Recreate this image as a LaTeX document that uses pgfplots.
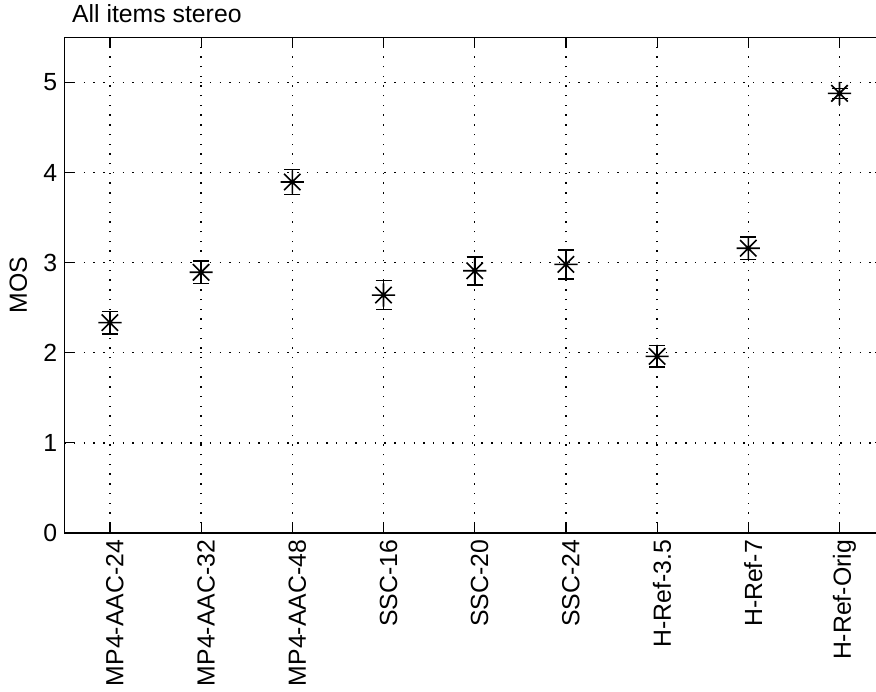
\documentclass[border=0pt]{standalone}
\usepackage{fontspec}
\setmainfont{Liberation Sans}
\usepackage{pgfplots}
\usepackage{pgfplotstable}
\pgfplotsset{compat=1.18}

\pgfdeclareplotmark{mstar}{%
  \pgfpathmoveto{\pgfqpoint{-\pgfplotmarksize}{0pt}}%
  \pgfpathlineto{\pgfqpoint{\pgfplotmarksize}{0pt}}%
  \pgfpathmoveto{\pgfqpoint{0pt}{-\pgfplotmarksize}}%
  \pgfpathlineto{\pgfqpoint{0pt}{\pgfplotmarksize}}%
  \pgfpathmoveto{\pgfqpoint{-.7071\pgfplotmarksize}{-.7071\pgfplotmarksize}}%
  \pgfpathlineto{\pgfqpoint{.7071\pgfplotmarksize}{.7071\pgfplotmarksize}}%
  \pgfpathmoveto{\pgfqpoint{-.7071\pgfplotmarksize}{.7071\pgfplotmarksize}}%
  \pgfpathlineto{\pgfqpoint{.7071\pgfplotmarksize}{-.7071\pgfplotmarksize}}%
  \pgfusepathqstroke}

\pgfplotstableread{
x   y      err
1   2.334  0.123
2   2.893  0.125
3   3.895  0.140
4   2.640  0.160
5   2.910  0.155
6   2.980  0.160
7   1.960  0.120
8   3.160  0.125
9   4.878  0.055
}\mosdata

\begin{document}
\begin{tikzpicture}
\path[use as bounding box] (-32.15pt,-79pt) rectangle (405.85pt,266.5pt);
\begin{axis}[
  name=ax,
  scale only axis,
  width=410.4pt, height=247.85pt,
  xmin=0.5, xmax=9.5, ymin=0, ymax=5.5,
  xtick={1,...,9},
  xticklabels={MP4-AAC-24,MP4-AAC-32,MP4-AAC-48,SSC-16,SSC-20,SSC-24,H-Ref-3.5,H-Ref-7,H-Ref-Orig},
  ytick={0,1,2,3,4,5},
  tick align=inside,
  xtick pos=both,
  ytick pos=both,
  major tick length=5pt,
  tick style={black, line width=0.6pt},
  axis line style={black, line width=0.7pt},
  grid=major,
  major grid style={black, line width=0.7pt, dash pattern=on 0.7pt off 4.15pt},
  font=\fontsize{12.4}{14}\selectfont,
  /pgf/number format/assume math mode=true,
  xticklabel style={rotate=90, anchor=east, yshift=-2.5pt},
  ylabel={MOS},
  ylabel style={at={(rel axis cs:-0.056,0.5)}, anchor=center},
]
\addplot[black, line width=0.8pt, only marks, mark=mstar, mark size=5.8pt,
  error bars/.cd, y dir=both, y explicit,
  error bar style={line width=0.8pt},
  error mark options={rotate=90, mark size=4pt, line width=0.8pt}]
  table[x=x, y=y, y error=err] {\mosdata};
\end{axis}
\begin{axis}[
  scale only axis,
  width=410.4pt, height=247.85pt,
  xmin=0.5, xmax=9.5, ymin=0, ymax=5.5,
  axis line style={draw=none},
  xtick=\empty, ytick=\empty,
  minor xtick={0.6,0.7,...,9.45},
  xtick pos=left,
  tick align=inside,
  minor tick length=1.8pt,
  minor tick style={black, line width=0.5pt},
]
\end{axis}
\node[anchor=base west, inner sep=0pt, font=\fontsize{12.4}{14}\selectfont]
  at ([xshift=3.7pt,yshift=7.5pt]ax.north west) {All items stereo};
\end{tikzpicture}
\end{document}
